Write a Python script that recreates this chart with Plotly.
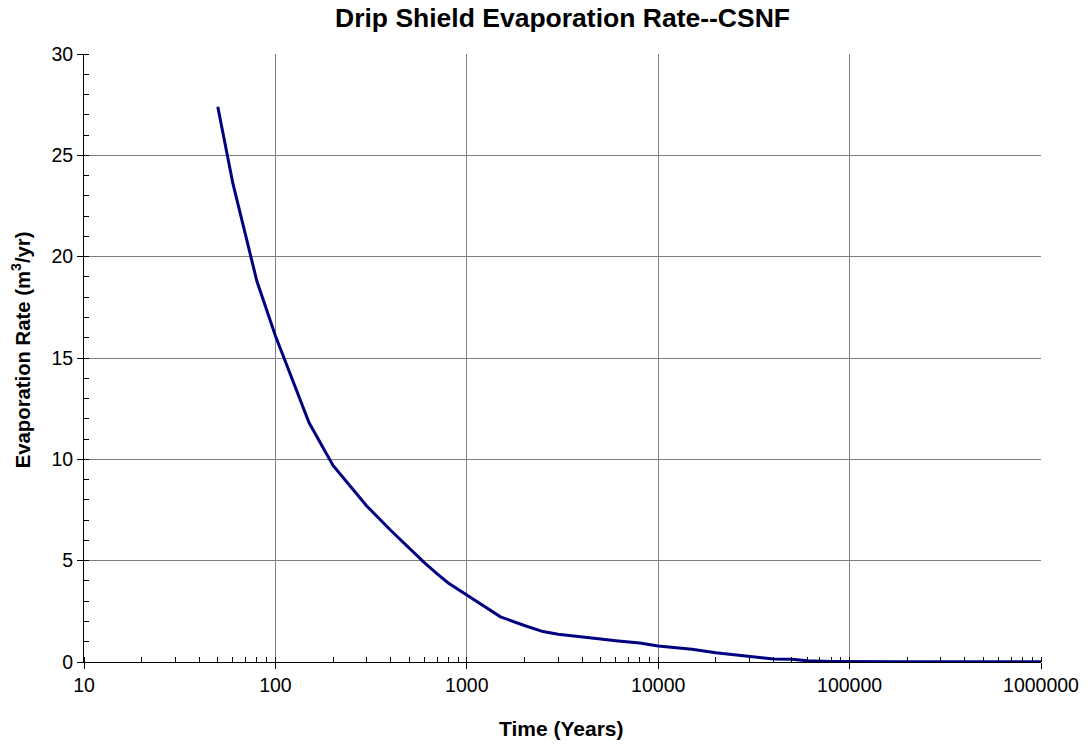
import plotly.graph_objects as go

# Values
years = [50, 60, 80, 100, 150, 200, 250, 300, 400, 500, 600, 700, 800, 1000,
         1500, 2000, 2500, 3000, 4000, 5000, 6000, 7000, 8000, 10000, 15000,
         20000, 30000, 40000, 50000, 60000, 80000, 100000, 200000, 500000, 1000000]
evap_rate = [27.4, 23.6, 18.8, 16.1, 11.8, 9.7, 8.6, 7.7, 6.5, 5.6, 4.9, 4.35, 3.9, 3.3,
             2.23, 1.8, 1.5, 1.37, 1.22, 1.13, 1.05, 0.99, 0.94, 0.79, 0.63,
             0.46, 0.26, 0.15, 0.13, 0.06, 0.03, 0.02, 0.01, 0.01, 0.01]

x_tickvals = [10, 100, 1000, 10000, 100000, 1000000]
x_ticktext = ["10", "100", "1000", "10000", "100000", "1000000"]

fig = go.Figure(go.Scatter(x=years, y=evap_rate, mode="lines",
                           line=dict(color="#000080", width=3)))

font = "Liberation Sans, Arial, sans-serif"

fig.update_layout(
    width=1091, height=746,
    margin=dict(l=84, r=48, t=54, b=84),
    paper_bgcolor="white", plot_bgcolor="white",
    showlegend=False,
    font=dict(family=font, color="black", size=19.5),
    title=dict(text="<b>Drip Shield Evaporation Rate--CSNF</b>", x=0.5, xref="paper",
               xanchor="center", y=0.9765, yanchor="middle", font=dict(size=26.5, family=font)),
)

fig.update_xaxes(
    type="log", range=[1, 6], tickvals=x_tickvals, ticktext=x_ticktext,
    showline=True, linecolor="black", linewidth=1,
    showgrid=True, gridcolor="#7f7f7f", gridwidth=1,
    ticks="outside", ticklen=6, tickcolor="black",
    minor=dict(ticks="inside", ticklen=5, tickcolor="black", dtick="D1", showgrid=False),
    zeroline=False,
)

fig.update_yaxes(
    range=[0, 30], dtick=5,
    showline=True, linecolor="black", linewidth=1,
    showgrid=True, gridcolor="#7f7f7f", gridwidth=1,
    ticks="outside", ticklen=6, tickcolor="black",
    minor=dict(ticks="inside", ticklen=5, tickcolor="black", dtick=1, showgrid=False),
    zeroline=False,
)

# axis titles placed as annotations for exact positioning
fig.add_annotation(text="<b>Time (Years)</b>", xref="paper", yref="paper",
                   x=0.499, y=-0.1086, xanchor="center", yanchor="middle",
                   showarrow=False, font=dict(size=21))
fig.add_annotation(text="<b>Evaporation Rate (m<sup>3</sup>/yr)</b>", xref="paper", yref="paper",
                   x=-0.0657, y=0.513, xanchor="center", yanchor="middle", textangle=-90,
                   showarrow=False, font=dict(size=20.3))

# drop the default page margin so the figure fills the window exactly
fig.write_html("out.html", config={"displayModeBar": False},
               post_script="document.body.style.margin='0';")
